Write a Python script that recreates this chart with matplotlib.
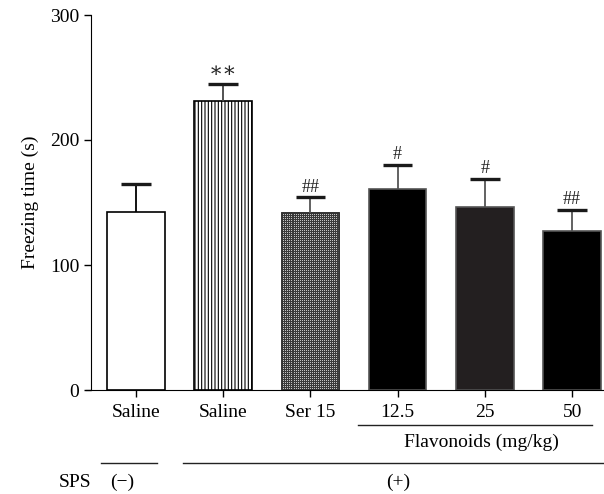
import numpy as np
import matplotlib.pyplot as plt
import matplotlib as mpl

plt.rcParams['font.family'] = ['Liberation Serif', 'DejaVu Serif']

# data
labels = ["Saline", "Saline", "Ser 15", "12.5", "25", "50"]
means = [142.5, 231, 141.5, 161, 146.5, 127]
sems = [22.5, 14, 12.5, 19, 22.5, 17]
marks = ["", "\u2217\u2217", "##", "#", "#", "##"]

faces = ['white', 'white', '#c8c8c8', 'black', '#231f20', 'black']
edges = ['black', 'black', '#333333', '#555555', '#555555', '#555555']
hatches = [None, '|||||', None, None, None, None]
err_cols = ['black', '#444444', '#555555', '#555555', '#555555', '#555555']

fig = plt.figure(figsize=(6.04, 4.94), dpi=100)
ax = fig.add_axes([86 / 604, 104 / 494, (604 - 86) / 604, (390 - 15) / 494])
ax.set_xlim(-0.572, 5.366)
ax.set_ylim(0, 300)

# fine grid texture used for the Ser 15 bar
tex = np.ones((375, 518))
tex[::2, :] = 0
tex[:, ::2] = 0
tex_cmap = mpl.colors.ListedColormap(['#3a3a3a', '#c4c4c4'])

x = list(range(len(labels)))
for i in x:
    mpl.rcParams['hatch.linewidth'] = 0.8
    bars = ax.bar(i, means[i], width=0.66, color=faces[i], edgecolor=edges[i],
                  hatch=hatches[i], linewidth=1.2, zorder=2)
    if i == 2:
        im = ax.imshow(tex, cmap=tex_cmap, interpolation='nearest', aspect='auto',
                       extent=[-0.572, 5.366, 0, 300], zorder=2.5)
        im.set_clip_path(bars[0])
        ax.bar(i, means[i], width=0.66, fill=False, edgecolor=edges[i],
               linewidth=1.2, zorder=2.6)
    ax.errorbar(i, means[i], yerr=[[0], [sems[i]]], fmt='none', ecolor=err_cols[i],
                elinewidth=1.3, capsize=0, zorder=3)
    ax.plot([i - 0.17, i + 0.17], [means[i] + sems[i]] * 2, color='#1a1a1a',
            lw=2.4, solid_capstyle='butt', zorder=4)
    if marks[i]:
        ax.text(i, means[i] + sems[i] + 1.5, marks[i], ha='center', va='bottom',
                fontsize=15 if i == 1 else 13, color='#222222')

ax.set_xlim(-0.572, 5.366)
ax.set_ylim(0, 300)
ax.spines['left'].set_position(('data', -0.515))
ax.spines['top'].set_visible(False)
ax.spines['right'].set_visible(False)
ax.spines['left'].set_bounds(0, 300)
ax.set_yticks([0, 100, 200, 300])
ax.set_xticks(x)
ax.set_xticklabels(labels, fontsize=14)
ax.tick_params(axis='y', labelsize=14, length=5, width=1, direction='out')
ax.tick_params(axis='x', length=5, width=1, direction='out', pad=5)
ax.set_ylabel("Freezing time (s)", fontsize=14, labelpad=8)

# group annotations below the axis (figure pixel coords)
def px(xp, yp):
    return xp / 604, 1 - yp / 494

def hline(x0, x1, yp):
    (a, b), (c, d) = px(x0, yp), px(x1, yp)
    fig.add_artist(plt.Line2D([a, c], [b, d], color='#222222', lw=1))

hline(358, 592, 425)
fig.text(*px(481, 442), "Flavonoids (mg/kg)", ha='center', va='center', fontsize=14)
hline(101, 157, 463)
hline(183, 604, 463)
fig.text(*px(75, 482), "SPS", ha='center', va='center', fontsize=14)
fig.text(*px(122, 482), "(\u2212)", ha='center', va='center', fontsize=14)
fig.text(*px(398, 482), "(+)", ha='center', va='center', fontsize=14)

fig.savefig("out.png", dpi=100)
